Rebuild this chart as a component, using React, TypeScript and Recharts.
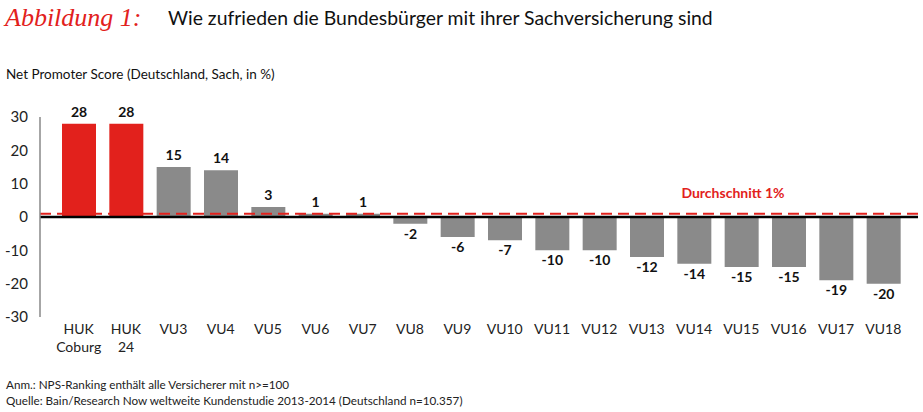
import React from 'react';
import { BarChart, Bar, XAxis, YAxis, Cell, LabelList, ReferenceLine } from 'recharts';

const categories = ['HUK\nCoburg', 'HUK\n24', 'VU3', 'VU4', 'VU5', 'VU6', 'VU7', 'VU8', 'VU9', 'VU10', 'VU11', 'VU12', 'VU13', 'VU14', 'VU15', 'VU16', 'VU17', 'VU18'];
const npsValues = [28, 28, 15, 14, 3, 1, 1, -2, -6, -7, -10, -10, -12, -14, -15, -15, -19, -20];
const highlighted = [true, true, false, false, false, false, false, false, false, false, false, false, false, false, false, false, false, false];
const yTicks = [-30, -20, -10, 0, 10, 20, 30];
const average = 1;

const RED = '#e2211c';
const GREY = '#8a8a8a';
const FONT = 'Lato, "Open Sans", sans-serif';

const data = categories.map((name, i) => ({ name, value: npsValues[i], hl: highlighted[i] }));

function CategoryTick(props: any) {
  const { x, y, payload } = props;
  const lines = String(payload.value).split('\n');
  return (
    <text x={x} y={y} textAnchor="middle" fill="#222" fontSize={14} fontFamily={FONT}>
      {lines.map((l, i) => (
        <tspan key={i} x={x} dy={i === 0 ? 9 : 18}>{l}</tspan>
      ))}
    </text>
  );
}

function ValueLabel(props: any) {
  const { x, y, width, height, value } = props;
  const cx = x + width / 2;
  const neg = value < 0;
  const top = Math.min(y, y + height);
  const bottom = Math.max(y, y + height);
  const ty = neg ? bottom + 15 : top - 7;
  return (
    <text x={cx} y={ty} textAnchor="middle" fontSize={14} fontWeight="bold" fill="#111" fontFamily={FONT}>
      {value}
    </text>
  );
}

function AverageLabel(props: any) {
  const { viewBox } = props;
  return (
    <text x={viewBox.x + viewBox.width - 185} y={viewBox.y - 16} textAnchor="middle" fontSize={14} fontWeight="bold" fill={RED} fontFamily={FONT}>
      {`Durchschnitt ${average}%`}
    </text>
  );
}

export default function App() {
  return (
    <div style={{ position: 'absolute', left: 0, top: 0, width: 923, height: 412, background: '#fff', fontFamily: FONT }}>
      <div style={{ position: 'absolute', left: 5, top: 3, fontFamily: '"Liberation Serif", serif', fontStyle: 'italic', fontSize: 26, color: RED }}>
        Abbildung 1:
      </div>
      <div style={{ position: 'absolute', left: 168, top: 6, fontSize: 19.4, color: '#111' }}>
        Wie zufrieden die Bundesbürger mit ihrer Sachversicherung sind
      </div>
      <div style={{ position: 'absolute', left: 6, top: 66, fontSize: 13.5, color: '#111' }}>
        Net Promoter Score (Deutschland, Sach, in %)
      </div>
      <BarChart width={923} height={412} data={data} margin={{ top: 117, right: 5, bottom: 55, left: 0 }}>
        <XAxis dataKey="name" axisLine={false} tickLine={false} interval={0} height={40} padding={{ left: 15, right: 11 }} tick={<CategoryTick />} />
        <YAxis domain={[-30, 30]} ticks={yTicks} width={40} tickLine={false} axisLine={{ stroke: '#888', strokeWidth: 1.5 }} tick={{ fill: '#222', fontSize: 15, fontFamily: FONT }} tickMargin={6} />
        <ReferenceLine y={0} stroke="#000" strokeWidth={2.5} />
        <Bar dataKey="value" barSize={34} isAnimationActive={false}>
          {data.map((d) => (
            <Cell key={d.name} fill={d.hl ? RED : GREY} />
          ))}
          <LabelList dataKey="value" content={<ValueLabel />} />
        </Bar>
        <ReferenceLine y={average} stroke={RED} strokeWidth={2} strokeDasharray="11 6" label={<AverageLabel />} />
      </BarChart>
      <div style={{ position: 'absolute', left: 6, top: 376, fontSize: 11.7, color: '#222', lineHeight: '16px' }}>
        Anm.: NPS-Ranking enthält alle Versicherer mit n&gt;=100
        <br />
        Quelle: Bain/Research Now weltweite Kundenstudie 2013-2014 (Deutschland n=10.357)
      </div>
    </div>
  );
}
